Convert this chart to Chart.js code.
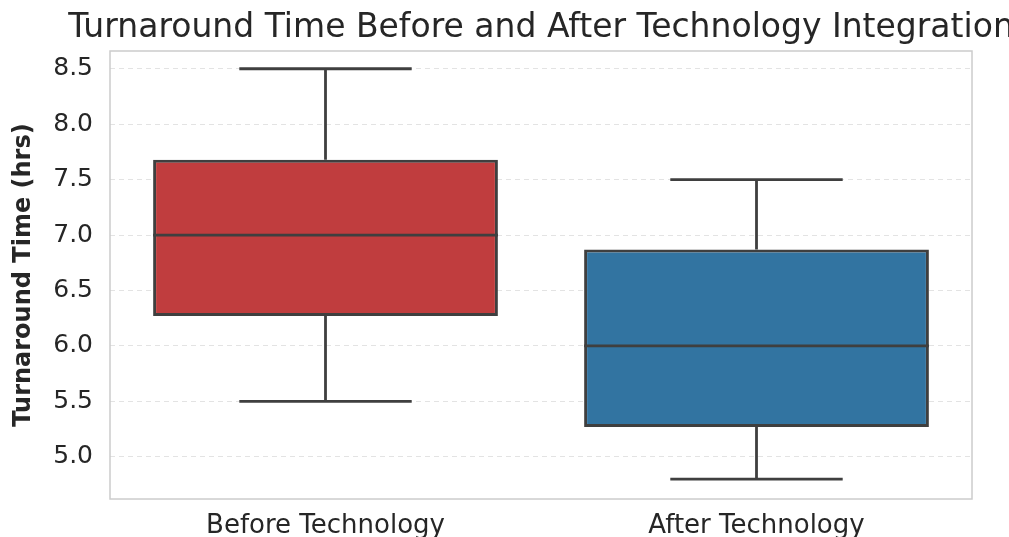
<!DOCTYPE html>
<html>
<head>
<meta charset="utf-8">
<script src="https://cdn.jsdelivr.net/npm/chart.js@4"></script>
<style>
  html, body { margin: 0; padding: 0; background: #fff; overflow: hidden; }
  #wrap { width: 1009px; height: 537px; position: relative; }
</style>
</head>
<body>
<div id="wrap"><canvas id="boxChart"></canvas></div>
<script>
// Box plot summary values
const categories = ["Before Technology", "After Technology"];
const whiskerLow = [5.5, 4.8];
const q1 = [6.27, 5.27];
const median = [7.0, 6.0];
const q3 = [7.68, 6.87];
const whiskerHigh = [8.5, 7.5];
const boxColors = ["#c03d3e", "#3274a1"];
const yTicks = [5.0, 5.5, 6.0, 6.5, 7.0, 7.5, 8.0, 8.5];

const chartTitle = "Turnaround Time Before and After Technology Integration";
const lineColor = "#3f3f3f";

// Whiskers, caps and median lines drawn on top of the floating bars
const boxExtras = {
  id: "boxExtras",
  afterDatasetsDraw(chart) {
    const ctx = chart.ctx;
    const x = chart.scales.x;
    const y = chart.scales.y;
    const bars = chart.getDatasetMeta(0).data;
    ctx.save();
    ctx.strokeStyle = lineColor;
    ctx.lineWidth = 2.8;
    categories.forEach((c, i) => {
      const cx = x.getPixelForValue(i);
      const half = bars[i].width / 2;
      const cap = half / 2;
      ctx.beginPath();
      // lower whisker
      ctx.moveTo(cx, y.getPixelForValue(q1[i]));
      ctx.lineTo(cx, y.getPixelForValue(whiskerLow[i]));
      ctx.moveTo(cx - cap, y.getPixelForValue(whiskerLow[i]));
      ctx.lineTo(cx + cap, y.getPixelForValue(whiskerLow[i]));
      // upper whisker
      ctx.moveTo(cx, y.getPixelForValue(q3[i]));
      ctx.lineTo(cx, y.getPixelForValue(whiskerHigh[i]));
      ctx.moveTo(cx - cap, y.getPixelForValue(whiskerHigh[i]));
      ctx.lineTo(cx + cap, y.getPixelForValue(whiskerHigh[i]));
      // median
      ctx.moveTo(cx - half, y.getPixelForValue(median[i]));
      ctx.lineTo(cx + half, y.getPixelForValue(median[i]));
      ctx.stroke();
    });
    ctx.restore();
  },
};

// Light frame round the plot area and the title centred over it
const frameAndTitle = {
  id: "frameAndTitle",
  beforeDatasetsDraw(chart) {
    const { ctx, chartArea } = chart;
    ctx.save();
    ctx.strokeStyle = "#cccccc";
    ctx.lineWidth = 1.5;
    ctx.strokeRect(chartArea.left, chartArea.top, chartArea.right - chartArea.left, chartArea.bottom - chartArea.top);
    ctx.restore();
  },
  afterDraw(chart) {
    const { ctx, chartArea } = chart;
    ctx.save();
    ctx.fillStyle = "#262626";
    ctx.font = "33px 'DejaVu Sans'";
    ctx.textAlign = "center";
    ctx.textBaseline = "alphabetic";
    ctx.fillText(chartTitle, (chartArea.left + chartArea.right) / 2, 37);
    ctx.restore();
  },
};

new Chart(document.getElementById("boxChart"), {
  type: "bar",
  data: {
    labels: categories,
    datasets: [
      {
        data: categories.map((c, i) => [q1[i], q3[i]]),
        backgroundColor: boxColors,
        borderColor: lineColor,
        borderWidth: 3,
        borderSkipped: false,
        barPercentage: 0.8,
        categoryPercentage: 1.0,
      },
    ],
  },
  options: {
    responsive: true,
    maintainAspectRatio: false,
    animation: false,
    layout: { padding: { top: 51, right: 37, left: 0, bottom: 0 } },
    plugins: {
      legend: { display: false },
      tooltip: { enabled: false },
    },
    scales: {
      x: {
        grid: { display: false },
        border: { display: false },
        ticks: {
          color: "#262626",
          font: { family: "DejaVu Sans", size: 26 },
          padding: 4,
        },
        afterFit(scale) { scale.height = 38; },
      },
      y: {
        min: 4.62,
        max: 8.66,
        afterBuildTicks(scale) {
          scale.ticks = yTicks.map((v) => ({ value: v }));
        },
        grid: { color: "#e3e3e3", lineWidth: 1, drawTicks: false },
        border: { display: false, dash: [5, 4] },
        ticks: {
          color: "#262626",
          font: { family: "DejaVu Sans", size: 25 },
          padding: 17,
          callback: (v) => Number(v).toFixed(1),
        },
        title: {
          display: true,
          text: "Turnaround Time (hrs)",
          color: "#262626",
          font: { family: "DejaVu Sans", size: 24, weight: "bold" },
          padding: { top: 9, bottom: 4 },
        },
        afterFit(scale) { scale.width = 110; },
      },
    },
  },
  plugins: [boxExtras, frameAndTitle],
});
</script>
</body>
</html>
